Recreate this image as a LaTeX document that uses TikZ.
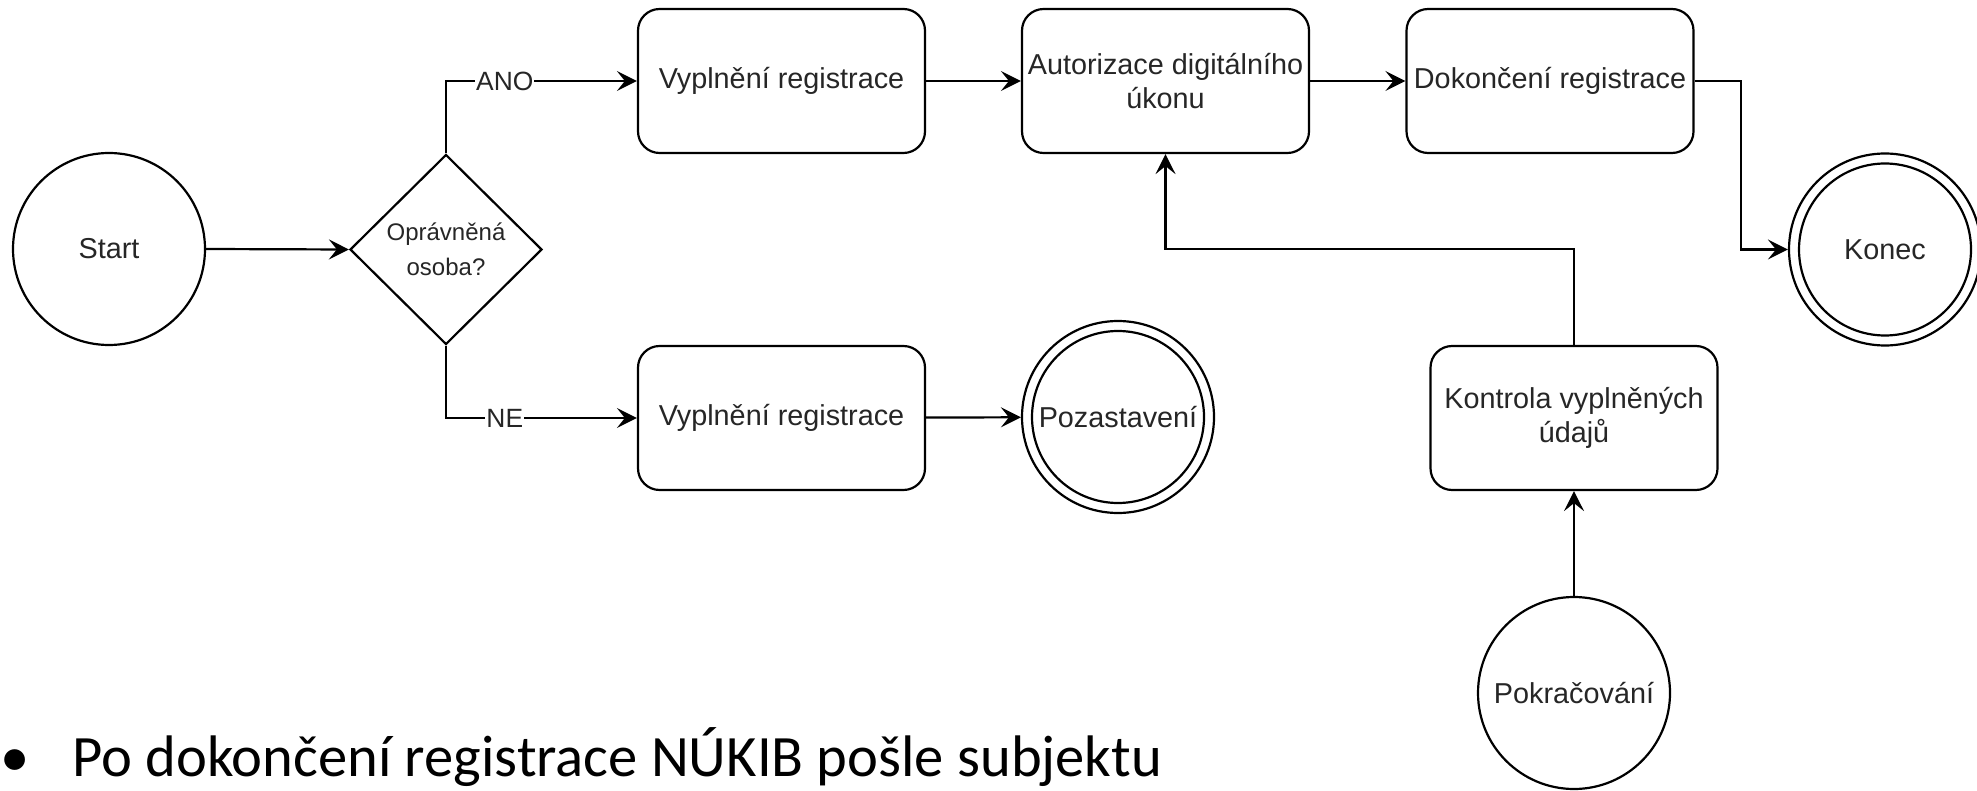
\documentclass[tikz,border=0pt]{standalone}
\usepackage{fontspec}
\setmainfont{Liberation Sans}
\newfontfamily\calib{Carlito}
\usetikzlibrary{shapes.geometric,arrows.meta}
\definecolor{txt}{HTML}{262626}
\begin{document}
\begin{tikzpicture}[x=1pt,y=-1pt,
  box/.style={draw, line width=2.2pt, rounded corners=21.6pt, minimum width=287pt, minimum height=144pt, inner sep=0pt, align=center, text=txt, font=\fontsize{28.8}{34.6}\selectfont},
  term/.style={draw, circle, line width=2.2pt, minimum size=192pt, inner sep=0pt, text=txt, font=\fontsize{28.8}{34.6}\selectfont},
  dec/.style={draw, diamond, line width=2.2pt, minimum width=192pt, minimum height=190pt, inner sep=0pt, align=center, text=txt, font=\fontsize{24}{35}\selectfont},
  conn/.style={line width=2.2pt, -{Stealth[length=20pt,width=20pt,inset=8pt]}},
  lab/.style={fill=white, inner sep=1pt, text=txt, font=\fontsize{26.4}{30}\selectfont},
  ring/.style={line width=2.2pt},
  bullettext/.style={inner sep=0pt, font=\calib\fontsize{58.6}{70}\selectfont}
]
\useasboundingbox (0,0) rectangle (1977,791);

\node[term] (start) at (109,249) {Start};
\node[dec] (dec) at (446,249.5) {Oprávněná\\osoba?};
\node[box] (v1) at (781.5,81) {Vyplnění registrace};
\node[box] (aut) at (1165.5,81) {Autorizace digitálního\\úkonu};
\node[box] (dok) at (1550,81) {Dokončení registrace};
\node[term] (kon) at (1885,249.5) {Konec};
\draw[ring] (kon.center) circle[radius=86pt];
\node[box] (v2) at (781.5,418) {Vyplnění registrace};
\node[term] (poz) at (1118,417) {Pozastavení};
\draw[ring] (poz.center) circle[radius=86pt];
\node[box] (ktr) at (1574,418) {Kontrola vyplněných\\údajů};
\node[term] (pok) at (1574,693) {Pokračování};

\coordinate (c1) at (1741,81);
\coordinate (c2) at (1165.5,249);

\draw[conn] (start.east) -- (dec.west);
\draw[conn] (dec.north) |- node[lab,pos=0.654]{ANO} (v1.west);
\draw[conn] (dec.south) |- node[lab,pos=0.654]{NE} (v2.west);
\draw[conn] (v1) -- (aut);
\draw[conn] (aut) -- (dok);
\draw[conn] (dok.east) -- (c1) |- (kon.west);
\draw[conn] (v2) -- (poz);
\draw[conn] (ktr.north) |- (c2) -- (aut.south);
\draw[conn] (pok) -- (ktr);

\node[bullettext, anchor=base west] (bul) at (0.5,776) {•};
\node[bullettext, anchor=base west] (btxt) at (72,776) {Po dokončení registrace NÚKIB pošle subjektu};
\end{tikzpicture}
\end{document}
